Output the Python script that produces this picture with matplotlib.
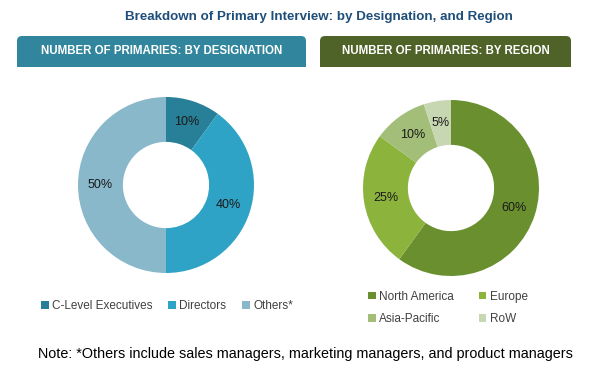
import matplotlib.pyplot as plt
from matplotlib.patches import FancyBboxPatch, Rectangle

W, H = 590, 370

# datos
desig_labels = ['C-Level Executives', 'Directors', 'Others*']
desig_values = [10, 40, 50]
desig_colors = ['#277f98', '#2fa3c6', '#88b8ca']

region_labels = ['North America', 'Europe', 'Asia-Pacific', 'RoW']
region_values = [60, 25, 10, 5]
region_colors = ['#6a8f2f', '#8cb43d', '#a3be79', '#c6d7b1']

title = 'Breakdown of Primary Interview: by Designation, and Region'
header_left = 'NUMBER OF PRIMARIES: BY DESIGNATION'
header_right = 'NUMBER OF PRIMARIES: BY REGION'
note = 'Note: *Others include sales managers, marketing managers, and product managers'

plain = ['Liberation Sans', 'DejaVu Sans']

fig = plt.figure(figsize=(W / 100, H / 100), dpi=100)

# capa de fondo en coordenadas de pixel
bg = fig.add_axes([0, 0, 1, 1])
bg.set_xlim(0, W)
bg.set_ylim(H, 0)
bg.axis('off')

bg.text(319, 17, title, ha='center', va='center', fontsize=9.6,
        fontweight='bold', color='#1f4e79', family=plain)


def header(x0, x1, color, text):
    y0, y1 = 36, 67
    bg.add_patch(FancyBboxPatch((x0, y0), x1 - x0, y1 - y0,
                                boxstyle='round,pad=0,rounding_size=5',
                                fc=color, ec='none'))
    bg.add_patch(Rectangle((x0, (y0 + y1) / 2), x1 - x0, (y1 - y0) / 2,
                           fc=color, ec='none'))
    bg.text((x0 + x1) / 2, 51.5, text, ha='center', va='center',
            fontsize=8.3, fontweight='bold', color='white', family=plain)


header(17, 306, '#31859c', header_left)
header(320, 571, '#4f6228', header_right)


def donut(cx, cy, r, values, colors):
    ax = fig.add_axes([(cx - r) / W, (H - cy - r) / H, 2 * r / W, 2 * r / H])
    wedges, _, autotexts = ax.pie(values, colors=colors, startangle=90,
                                  counterclock=False, radius=1,
                                  autopct='%d%%', pctdistance=0.75,
                                  wedgeprops=dict(width=0.51, edgecolor='none'))
    for t in autotexts:
        t.set_fontsize(9)
        t.set_color('#1a1a1a')
        t.set_family(plain)
    ax.set_xlim(-1, 1)
    ax.set_ylim(-1, 1)
    ax.set_aspect('equal')
    return wedges


w_left = donut(166, 185, 88, desig_values, desig_colors)
w_right = donut(451, 188, 88, region_values, region_colors)

leg_kw = dict(frameon=False, handlelength=0.65, handleheight=0.65,
              handletextpad=0.3, borderaxespad=0,
              prop={'family': plain, 'size': 8.5}, labelcolor='#404040')

fig.legend(w_left, desig_labels, ncol=3, loc='center',
           bbox_to_anchor=(167 / W, 1 - 306 / H), columnspacing=1.3, **leg_kw)

# la leyenda se llena por columnas: reordenar para tener filas NA/Europe, APAC/RoW
order = [0, 2, 1, 3]
fig.legend([w_right[i] for i in order], [region_labels[i] for i in order],
           ncol=2, loc='center', bbox_to_anchor=(448 / W, 1 - 308 / H),
           columnspacing=2.1, labelspacing=0.9, **leg_kw)

bg.text(305, 354, note, ha='center', va='center', fontsize=10.4,
        color='black', family=plain)

fig.savefig('out.png', dpi=100)
